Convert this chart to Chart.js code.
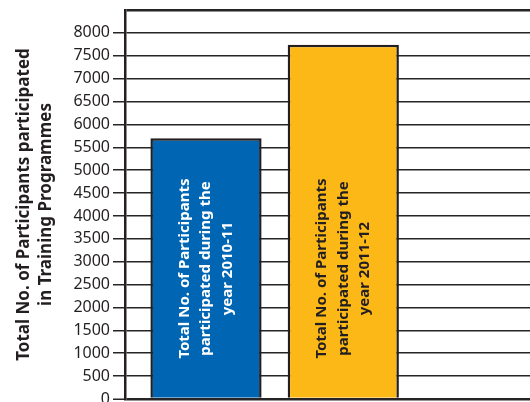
<!DOCTYPE html>
<html>
<head>
<meta charset="utf-8">
<script src="https://cdn.jsdelivr.net/npm/chart.js@4.4.1/dist/chart.umd.min.js"></script>
<style>
  html, body { margin: 0; padding: 0; background: #fff; overflow: hidden; }
  #caixa { width: 530px; height: 402px; }
</style>
</head>
<body>
<div id="caixa"><canvas id="graficoParticipantes"></canvas></div>
<script>
const anos = ["2010-11", "2011-12"];
const participantes = [5700, 7740];
const coresBarras = ["#0066b3", "#fbb817"];
const coresTexto = ["#ffffff", "#231f20"];
const tituloEixoY = ["Total No. of Participants participated", "in Training Programmes"];
const passoY = 500;
const maxY = 8500;

const corLinha = "#262424";
const fonte = "'Noto Sans', sans-serif";

// rotated text inside each bar
const rotulosDentro = {
  id: "rotulosDentro",
  afterDatasetsDraw(chart) {
    const { ctx, scales: { y } } = chart;
    const barras = chart.getDatasetMeta(0).data;
    const menor = Math.min(...participantes);
    const centroY = (y.getPixelForValue(0) + y.getPixelForValue(menor)) / 2;
    ctx.save();
    ctx.font = "bold 15px " + fonte;
    ctx.textAlign = "center";
    ctx.textBaseline = "middle";
    barras.forEach((barra, i) => {
      const linhas = ["Total No. of Participants", "participated during the", "year " + anos[i]];
      ctx.save();
      ctx.translate(barra.x, centroY);
      ctx.rotate(-Math.PI / 2);
      ctx.fillStyle = coresTexto[i];
      linhas.forEach((t, k) => ctx.fillText(t, 0, (k - (linhas.length - 1) / 2) * 21.5));
      ctx.restore();
    });
    ctx.restore();
  }
};

new Chart(document.getElementById("graficoParticipantes"), {
  type: "bar",
  data: {
    datasets: [{
      data: anos.map((a, i) => ({ x: i + 1, y: participantes[i] })),
      backgroundColor: coresBarras,
      borderColor: "#231f20",
      borderWidth: 2.5,
      categoryPercentage: 1,
      barPercentage: 0.81
    }]
  },
  options: {
    responsive: true,
    maintainAspectRatio: false,
    animation: false,
    layout: { padding: { top: 10, bottom: 3, left: 0, right: 0 } },
    plugins: { legend: { display: false }, tooltip: { enabled: false } },
    scales: {
      x: {
        type: "linear",
        min: 0.41,
        max: 3.36,
        offset: false,
        display: false,
        // no x ticks, so bar width comes from the spacing between the years
        afterBuildTicks(escala) { escala.ticks = []; }
      },
      y: {
        min: 0,
        max: maxY,
        ticks: {
          stepSize: passoY,
          color: "#231f20",
          padding: 3,
          font: { family: fonte, size: 16 },
          callback: v => (v === maxY ? "" : v)
        },
        grid: {
          color: corLinha,
          lineWidth: c => (c.tick && (c.tick.value === 0 || c.tick.value === maxY) ? 2.5 : 1.5),
          tickLength: 12,
          tickWidth: 1.5,
          tickColor: c => (c.tick && c.tick.value === maxY ? "rgba(0,0,0,0)" : corLinha)
        },
        border: { color: "#231f20", width: 2.5 },
        title: {
          display: true,
          text: tituloEixoY,
          color: "#231f20",
          font: { family: fonte, size: 17, weight: "bold", lineHeight: 1.3 },
          padding: { top: 13, bottom: 0 }
        },
        afterFit(escala) {
          escala.width = 125;
          escala.paddingTop = 0;
          escala.paddingBottom = 0;
        }
      }
    }
  },
  plugins: [rotulosDentro]
});
</script>
</body>
</html>
